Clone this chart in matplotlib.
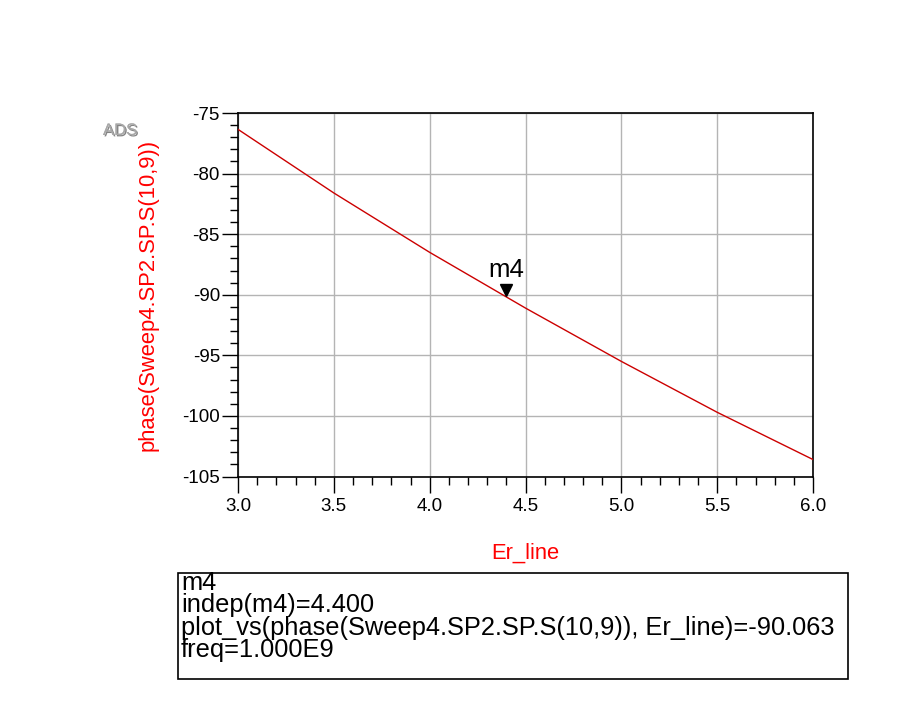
import matplotlib.pyplot as plt
import matplotlib.transforms as mtransforms
import matplotlib.patheffects as pe
from matplotlib.ticker import MultipleLocator

plt.rcParams['font.family'] = ['Liberation Sans', 'DejaVu Sans']

# values
er_line = [3.0, 3.5, 4.0, 4.5, 5.0, 5.5, 6.0]
phase = [-76.35, -81.6, -86.5, -91.1, -95.5, -99.7, -103.6]
marker_name = 'm4'
marker_x = 4.4
marker_y = -90.063
readout = ['m4',
           'indep(m4)=4.400',
           'plot_vs(phase(Sweep4.SP2.SP.S(10,9)), Er_line)=-90.063',
           'freq=1.000E9']

fig = plt.figure(figsize=(9.22, 7.24), dpi=100, facecolor='white')
ax = fig.add_axes([238/922, 1-476.5/724, 575/922, 363.5/724])

ax.plot(er_line, phase, color='#cc0000', lw=1.0, zorder=3)
ax.set_xlim(3.0, 6.0)
ax.set_ylim(-105, -75)
ax.xaxis.set_major_locator(MultipleLocator(0.5))
ax.xaxis.set_minor_locator(MultipleLocator(0.1))
ax.yaxis.set_major_locator(MultipleLocator(5))
ax.yaxis.set_minor_locator(MultipleLocator(1))
ax.xaxis.set_major_formatter(plt.FormatStrFormatter('%.1f'))
ax.yaxis.set_major_formatter(plt.FormatStrFormatter('%d'))
ax.grid(True, which='major', color='#b4b4b4', lw=1.0)
ax.set_axisbelow(True)
ax.tick_params(which='major', direction='out', length=11.5, width=1.0, labelsize=13.5)
ax.tick_params(which='minor', direction='out', length=5.8, width=1.0)
ax.tick_params(axis='y', pad=1.5)
ax.tick_params(axis='x', pad=4)
for s in ax.spines.values():
    s.set_linewidth(1.2)

ax.set_xlabel('Er_line', color='#ff0000', fontsize=15.8)
ax.set_ylabel('phase(Sweep4.SP2.SP.S(10,9))', color='#ff0000', fontsize=15.8)
ax.xaxis.set_label_coords(0.499, -0.183)
ax.yaxis.set_label_coords(-0.139, 0.5)

# marker triangle sitting on the trace
tri = mtransforms.offset_copy(ax.transData, fig=fig, x=0, y=5.5, units='dots')
ax.plot(marker_x, marker_y, marker='v', color='black', markersize=8,
        transform=tri, zorder=4, clip_on=False)
ax.annotate(marker_name, (marker_x, marker_y), xytext=(0, 13), textcoords='offset points',
            ha='center', va='baseline', fontsize=18.5)

# ADS logo
fig.text(103/922, 1-135/724, 'ADS', color='#a8a8a8', fontsize=12,
         path_effects=[pe.withSimplePatchShadow(offset=(1, -1), shadow_rgbFace='#505050', alpha=0.7),
                       pe.Normal()])

# marker readout box
box = plt.Rectangle((178/922, 1-679/724), 670/922, 106/724, transform=fig.transFigure,
                    fill=False, edgecolor='black', lw=1.2)
fig.patches.append(box)
fig.text(181/922, 1-657/724, '\n'.join(readout), fontsize=18.3, va='baseline', ha='left',
         linespacing=0.92)

fig.savefig('out.png', dpi=100)
